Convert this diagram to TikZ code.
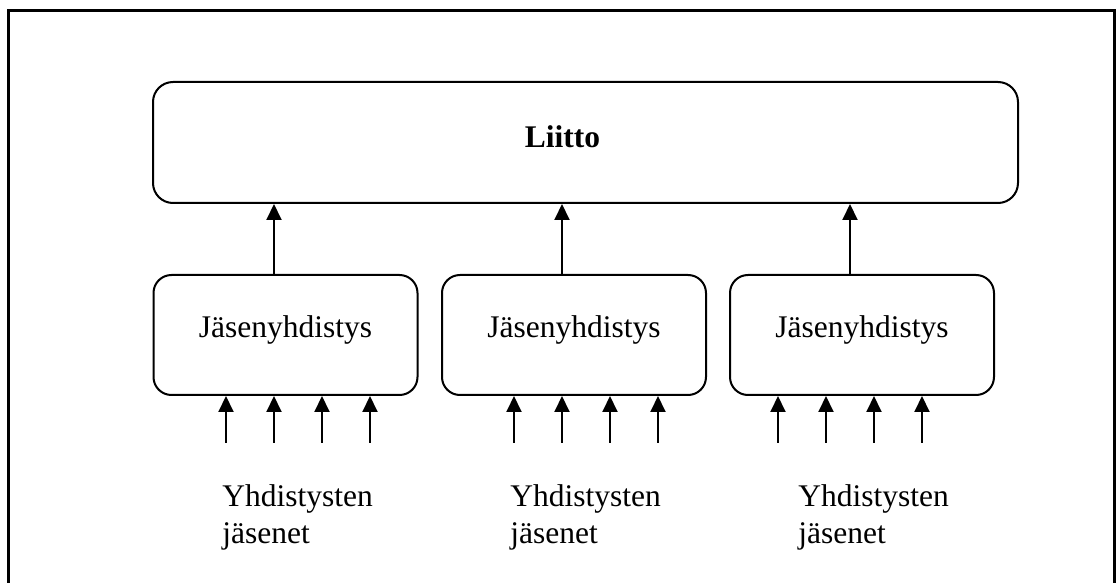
\documentclass[tikz,border=0pt]{standalone}
\usepackage{fontspec}
\setmainfont{Liberation Serif}
\usetikzlibrary{arrows.meta}

\begin{document}
\begin{tikzpicture}[
        x=0.5pt, y=-0.5pt,
        font=\fontsize{15.75}{18.5}\selectfont,
        liittobox/.style={draw, line width=1pt, rounded corners=10pt,
                minimum width=432.5pt, minimum height=60.5pt, inner sep=0pt},
        jasenbox/.style={draw, line width=1pt, rounded corners=9pt,
                minimum width=132pt, minimum height=60pt, inner sep=0pt,
                text height=10pt, text depth=7pt},
        arr/.style={line width=1pt, -{Triangle[width=7.5pt,length=8pt]}},
        members/.style={align=left, anchor=north west, inner sep=0pt}
    ]
    \useasboundingbox (0,0) rectangle (1116,583);

    % Frame
    \draw[line width=1.5pt] (8.5,590) -- (8.5,10.5) -- (1114.5,10.5) -- (1114.5,590);

    % Liitto
    \node[liittobox] (liitto) at (585.5,142.5) {};
    \node[anchor=base, font=\fontsize{15.75}{18.5}\selectfont\bfseries] (liittoteksti) at (562.5,148) {Liitto};

    % Jasenyhdistykset
    \node[jasenbox] (jy1) at (285.5,335) {Jäsenyhdistys};
    \node[jasenbox] (jy2) at (574,335) {Jäsenyhdistys};
    \node[jasenbox] (jy3) at (862,335) {Jäsenyhdistys};

    \foreach \i/\x in {1/274, 2/562, 3/850} {
        \coordinate (up\i) at (\x,0);
        \draw[arr] (up\i |- jy\i.north) -- (up\i |- liitto.south);
    }

    % Yhdistysten jasenet
    \foreach \i/\xs in {1/{226,274,322,370}, 2/{514,562,610,658}, 3/{778,826,874,922}}
        \foreach \x [count=\j] in \xs {
            \coordinate (m\i-\j) at (\x,443);
            \draw[arr] (m\i-\j) -- (m\i-\j |- jy\i.south);
        }

    \node[members] (yj1) at (222,484.5) {Yhdistysten\\jäsenet};
    \node[members] (yj2) at (510,484.5) {Yhdistysten\\jäsenet};
    \node[members] (yj3) at (798,484.5) {Yhdistysten\\jäsenet};
\end{tikzpicture}
\end{document}
